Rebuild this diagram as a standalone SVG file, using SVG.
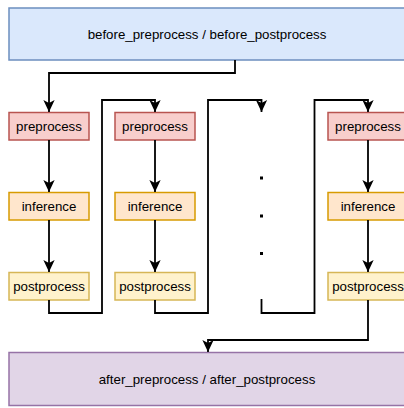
<svg xmlns="http://www.w3.org/2000/svg" width="404" height="408" viewBox="0 0 404 408">
<defs>
<style>
text{font-family:"Liberation Sans",Arial,sans-serif;font-size:13.3px;fill:#000;text-anchor:middle;dominant-baseline:central}
.pre{fill:#f8cecc;stroke:#b85450;stroke-width:1.5}
.inf{fill:#ffe6cc;stroke:#d79b00;stroke-width:1.5}
.post{fill:#fff2cc;stroke:#d6b656;stroke-width:1.5}
.top{fill:#dae8fc;stroke:#6c8ebf;stroke-width:1.5}
.aft{fill:#e1d5e7;stroke:#9673a6;stroke-width:1.5}
.c{fill:none;stroke:#000;stroke-width:1.8}
.dot{fill:#000}
</style>
<marker id="arr" markerUnits="userSpaceOnUse" markerWidth="12" markerHeight="12" refX="10" refY="5" orient="auto" viewBox="0 0 10 10">
<path d="M10,5 L0,0.3 L2.6,5 L0,9.7 Z" fill="#000"/>
</marker>
</defs>
<g id="before"><rect class="top" x="9" y="8" width="396" height="52"/><text x="207" y="34">before_preprocess / before_postprocess</text></g>
<g id="after"><rect class="aft" x="9" y="352.5" width="396" height="53"/><text x="207" y="379">after_preprocess / after_postprocess</text></g>
<g id="pre1"><rect class="pre" x="9" y="112.5" width="80" height="27.5"/><text x="49" y="126.5">preprocess</text></g>
<g id="inf1"><rect class="inf" x="9" y="192.5" width="80" height="27.5"/><text x="49" y="206.5">inference</text></g>
<g id="post1"><rect class="post" x="9" y="272.5" width="80" height="27.5"/><text x="49" y="286.5">postprocess</text></g>
<g id="pre2"><rect class="pre" x="115" y="112.5" width="80" height="27.5"/><text x="155" y="126.5">preprocess</text></g>
<g id="inf2"><rect class="inf" x="115" y="192.5" width="80" height="27.5"/><text x="155" y="206.5">inference</text></g>
<g id="post2"><rect class="post" x="115" y="272.5" width="80" height="27.5"/><text x="155" y="286.5">postprocess</text></g>
<g id="pre4"><rect class="pre" x="328" y="112.5" width="80" height="27.5"/><text x="368" y="126.5">preprocess</text></g>
<g id="inf4"><rect class="inf" x="328" y="192.5" width="80" height="27.5"/><text x="368" y="206.5">inference</text></g>
<g id="post4"><rect class="post" x="328" y="272.5" width="80" height="27.5"/><text x="368" y="286.5">postprocess</text></g>
<g id="dots">
<rect class="dot" x="260" y="176.5" width="3" height="3"/>
<rect class="dot" x="260" y="214.5" width="3" height="3"/>
<rect class="dot" x="260" y="252" width="3" height="3"/>
</g>
<g id="connectors">
<path class="c" d="M235,60 V73 H49 V112" marker-end="url(#arr)"/>
<path class="c" d="M49,140 V192" marker-end="url(#arr)"/>
<path class="c" d="M49,220 V272" marker-end="url(#arr)"/>
<path class="c" d="M155,140 V192" marker-end="url(#arr)"/>
<path class="c" d="M155,220 V272" marker-end="url(#arr)"/>
<path class="c" d="M368,140 V192" marker-end="url(#arr)"/>
<path class="c" d="M368,220 V272" marker-end="url(#arr)"/>
<path class="c" d="M49,300 V313 H102 V100 H155 V112" marker-end="url(#arr)"/>
<path class="c" d="M155,300 V313 H208 V100 H261.5 V112" marker-end="url(#arr)"/>
<path class="c" d="M261.5,299 V313 H314.5 V100 H368 V112" marker-end="url(#arr)"/>
<path class="c" d="M368,300 V340 H208 V352" marker-end="url(#arr)"/>
</g>
</svg>
